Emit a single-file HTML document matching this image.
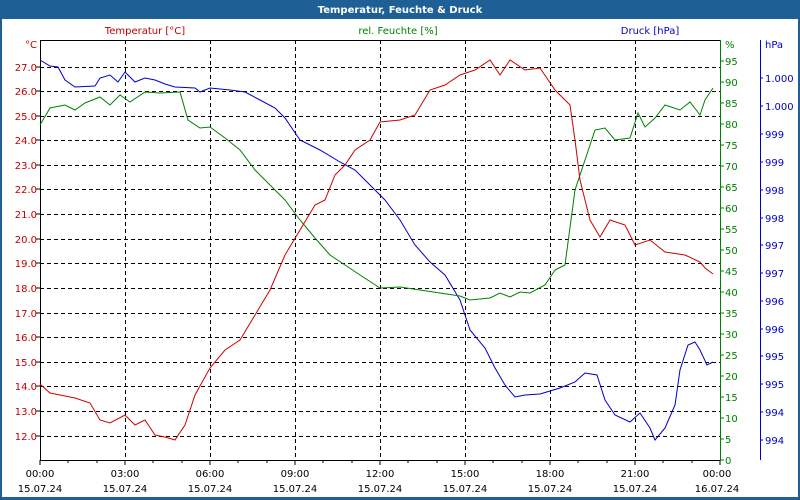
<!DOCTYPE html>
<html><head><meta charset="utf-8"><style>
body{margin:0;width:800px;height:500px;overflow:hidden;background:#fff}
svg{display:block}
text{font-family:"DejaVu Sans","Liberation Sans",sans-serif;font-size:10px}
</style></head><body>
<svg width="800" height="500" xmlns="http://www.w3.org/2000/svg">
<rect x="0" y="0" width="800" height="500" fill="#1e5f96"/>
<rect x="2" y="19" width="796" height="478" fill="#fff"/>
<text x="400" y="13" text-anchor="middle" fill="#fff" font-weight="bold" style="font-size:10px">Temperatur, Feuchte &amp; Druck</text>
<text x="145" y="34" text-anchor="middle" fill="#c00000">Temperatur [°C]</text>
<text x="398" y="34" text-anchor="middle" fill="#008000">rel. Feuchte [%]</text>
<text x="650" y="34" text-anchor="middle" fill="#0000c0">Druck [hPa]</text>
<g stroke="#000" stroke-dasharray="4,3" stroke-width="1">
<path d="M125.5 40V460M210.5 40V460M295.5 40V460M380.5 40V460M465.5 40V460M550.5 40V460M635.5 40V460"/>
<path d="M40 67.5H720M40 91.5H720M40 116.5H720M40 140.5H720M40 165.5H720M40 189.5H720M40 214.5H720M40 239.5H720M40 263.5H720M40 288.5H720M40 313.5H720M40 337.5H720M40 362.5H720M40 386.5H720M40 411.5H720M40 436.5H720"/>
</g>
<path d="M40.5 40V460.5H720M40 40.5H720" stroke="#000" fill="none"/>
<path d="M40 460v5M68 460v3M97 460v3M125 460v5M153 460v3M182 460v3M210 460v5M238 460v3M267 460v3M295 460v5M323 460v3M352 460v3M380 460v5M408 460v3M437 460v3M465 460v5M493 460v3M522 460v3M550 460v5M578 460v3M607 460v3M635 460v5M663 460v3M692 460v3M720 460v5" stroke="#000"/>
<path d="M40 67h-4M40 91h-4M40 116h-4M40 140h-4M40 165h-4M40 189h-4M40 214h-4M40 239h-4M40 263h-4M40 288h-4M40 313h-4M40 337h-4M40 362h-4M40 386h-4M40 411h-4M40 436h-4" stroke="#000"/>
<g fill="#c00000" text-anchor="end">
<text x="37" y="48">°C</text>
<text x="37" y="71">27.0</text><text x="37" y="95">26.0</text><text x="37" y="120">25.0</text><text x="37" y="144">24.0</text><text x="37" y="169">23.0</text><text x="37" y="193">22.0</text><text x="37" y="218">21.0</text><text x="37" y="243">20.0</text><text x="37" y="267">19.0</text><text x="37" y="292">18.0</text><text x="37" y="317">17.0</text><text x="37" y="341">16.0</text><text x="37" y="366">15.0</text><text x="37" y="390">14.0</text><text x="37" y="415">13.0</text><text x="37" y="440">12.0</text>
</g>
<line x1="720.5" y1="40" x2="720.5" y2="461" stroke="#008000"/>
<g stroke="#008000">
<path d="M720 460h4M720 439h4M720 418h4M720 397h4M720 376h4M720 355h4M720 334h4M720 313h4M720 292h4M720 271h4M720 250h4M720 229h4M720 208h4M720 187h4M720 166h4M720 145h4M720 124h4M720 103h4M720 82h4M720 61h4"/>
</g>
<g fill="#008000">
<text x="725" y="48">%</text>
<text x="725" y="464">0</text><text x="725" y="443">5</text><text x="725" y="422">10</text><text x="725" y="401">15</text><text x="725" y="380">20</text><text x="725" y="359">25</text><text x="725" y="338">30</text><text x="725" y="317">35</text><text x="725" y="296">40</text><text x="725" y="275">45</text><text x="725" y="254">50</text><text x="725" y="233">55</text><text x="725" y="212">60</text><text x="725" y="191">65</text><text x="725" y="170">70</text><text x="725" y="149">75</text><text x="725" y="128">80</text><text x="725" y="107">85</text><text x="725" y="86">90</text><text x="725" y="65">95</text>
</g>
<line x1="760.5" y1="40" x2="760.5" y2="460" stroke="#0000c0"/>
<path d="M760 78h3M760 106h3M760 134h3M760 162h3M760 190h3M760 218h3M760 245h3M760 273h3M760 301h3M760 329h3M760 356h3M760 384h3M760 412h3M760 440h3" stroke="#0000c0"/>
<g fill="#0000c0">
<text x="765" y="48">hPa</text>
<text x="765" y="82">1.000</text><text x="765" y="110">1.000</text><text x="765" y="138">999</text><text x="765" y="166">999</text><text x="765" y="194">998</text><text x="765" y="222">998</text><text x="765" y="249">997</text><text x="765" y="277">997</text><text x="765" y="305">996</text><text x="765" y="333">996</text><text x="765" y="360">995</text><text x="765" y="388">995</text><text x="765" y="416">994</text><text x="765" y="444">994</text>
</g>
<g fill="#000" text-anchor="middle">
<text x="40" y="477">00:00</text><text x="40" y="492">15.07.24</text>
<text x="125" y="477">03:00</text><text x="125" y="492">15.07.24</text>
<text x="210" y="477">06:00</text><text x="210" y="492">15.07.24</text>
<text x="295" y="477">09:00</text><text x="295" y="492">15.07.24</text>
<text x="380" y="477">12:00</text><text x="380" y="492">15.07.24</text>
<text x="465" y="477">15:00</text><text x="465" y="492">15.07.24</text>
<text x="550" y="477">18:00</text><text x="550" y="492">15.07.24</text>
<text x="635" y="477">21:00</text><text x="635" y="492">15.07.24</text>
<text x="717" y="477">00:00</text><text x="717" y="492">16.07.24</text>
</g>
<polyline fill="none" stroke="#0000c8" points="40,60 50,66 58,67 65,80 75,87 95,86 100,78 110,75 118,82 125,72 135,82 145,78 155,80 165,84 175,87 195,88 200,92 210,88 230,90 245,92 260,100 275,108 285,118 300,140 320,150 340,162 355,170 370,185 385,200 400,220 415,245 430,262 445,275 460,300 470,330 485,348 495,368 505,385 515,397 525,395 540,394 560,388 575,382 585,373 597,375 605,400 615,415 630,422 640,413 650,428 655,440 665,428 675,405 680,370 688,345 695,342 700,350 707,365 713,362"/>
<polyline fill="none" stroke="#008000" points="40,125 50,108 65,105 75,110 85,103 100,97 110,105 120,95 130,102 145,92 160,93 180,92 188,120 200,128 210,127 225,138 240,150 255,170 270,185 285,200 300,220 315,238 330,255 345,265 360,275 380,288 400,287 420,290 440,293 460,296 470,300 490,298 500,293 510,297 520,292 530,293 545,285 555,270 565,265 575,190 585,160 595,130 605,128 615,140 630,138 638,113 645,127 655,118 665,105 680,110 690,102 700,115 705,100 713,88"/>
<polyline fill="none" stroke="#d00000" points="40,384 50,393 65,396 75,398 90,403 100,420 110,423 125,415 135,425 145,420 155,435 165,437 175,440 185,425 195,395 210,368 225,350 240,340 255,315 270,290 285,255 300,230 315,205 325,200 335,175 345,165 355,150 370,140 380,122 400,120 415,115 430,90 445,85 460,75 475,70 490,60 500,75 510,60 525,70 540,68 555,90 570,105 575,140 580,180 590,220 600,237 610,220 625,225 635,245 650,240 665,252 685,255 700,262 705,268 713,274"/>
</svg>
</body></html>
